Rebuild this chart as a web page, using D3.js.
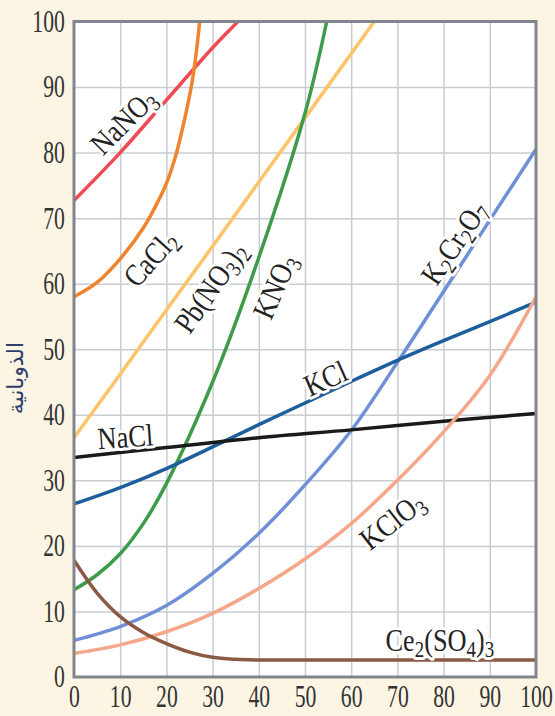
<!DOCTYPE html>
<meta charset="utf-8">
<style>
  body { margin: 0; background: #fcf5e3; }
  .tick text { font-family: 'Liberation Serif', serif; font-size: 31px; fill: #333; }
  .grid line { stroke: #c9ccd3; stroke-width: 1.5; }
  .grid path { display: none; }
  .lbl { font-family: 'Liberation Serif', serif; font-size: 31px; fill: #222;
         stroke: #fff; stroke-width: 6px; paint-order: stroke; stroke-linejoin: round; }
</style>
<body>
<div id="chart"></div>
<script src="https://d3js.org/d3.v7.min.js"></script>
<script>
  // temperature ticks / solubility ticks
  var xTicks = [0, 10, 20, 30, 40, 50, 60, 70, 80, 90, 100];
  var yTicks = [0, 10, 20, 30, 40, 50, 60, 70, 80, 90, 100];

  // curves: [temperature, solubility]
  var NaNO3   = [[0, 72.7], [10, 80], [20, 88], [30, 96], [35.5, 100]];
  var CaCl2   = [[0, 58], [5, 60.2], [10, 63.8], [15, 68.5], [18, 72.3], [20, 75.3], [22, 79.5], [24, 85.3], [25.5, 90.5], [26.5, 95.5], [27.2, 100]];
  var PbNO32  = [[0, 36.5], [10, 46.2], [20, 56], [30, 65.7], [40, 75.5], [50, 85.3], [60, 95.1], [65, 100]];
  var KNO3    = [[0, 13.3], [5, 15.6], [10, 18.8], [15, 23.4], [20, 29.5], [30, 45], [40, 64], [50, 86], [54.7, 100]];
  var K2Cr2O7 = [[0, 5.6], [10, 7.7], [20, 10.9], [30, 15.8], [40, 21.9], [50, 29.3], [60, 37.6], [70, 48], [80, 58.8], [90, 69.7], [100, 80.5]];
  var KCl     = [[0, 26.4], [10, 28.9], [20, 31.8], [30, 35.1], [40, 38.5], [50, 41.8], [60, 45.1], [70, 48.3], [80, 51.3], [90, 54.2], [100, 57.2]];
  var NaCl    = [[0, 33.5], [20, 35], [40, 36.5], [60, 37.7], [80, 39], [100, 40.2]];
  var KClO3   = [[0, 3.6], [10, 4.9], [20, 6.9], [30, 9.7], [40, 13.5], [50, 18], [60, 23.4], [70, 30], [80, 37.4], [90, 46], [100, 58]];
  var Ce2SO43 = [[0, 17.8], [5, 12.8], [10, 9.2], [15, 6.8], [20, 5.1], [25, 3.8], [30, 3.0], [35, 2.7], [40, 2.6], [70, 2.6], [100, 2.6]];

  var series = [
    { name: "NaNO_3",      data: NaNO3,   color: "#ee4b55", lx: 10.6, ly: 84.8, angle: -45 },
    { name: "CaCl_2",      data: CaCl2,   color: "#f0832c", lx: 16.5, ly: 63.9, angle: -48 },
    { name: "Pb(NO_3)_2",  data: PbNO32,  color: "#fdc46a", lx: 29.5, ly: 59.5, angle: -55 },
    { name: "KNO_3",       data: KNO3,    color: "#3e9b4a", lx: 43.4, ly: 59.6, angle: -66 },
    { name: "K_2Cr_2O_7",  data: K2Cr2O7, color: "#6f8fd6", lx: 82.2, ly: 66.3, angle: -56 },
    { name: "KCl",         data: KCl,     color: "#1d5e9c", lx: 54.4, ly: 45.6, angle: -24 },
    { name: "NaCl",        data: NaCl,    color: "#1a1a1a", lx: 11.1, ly: 36.7, angle: -4 },
    { name: "KClO_3",      data: KClO3,   color: "#f7a789", lx: 68.8, ly: 23.9, angle: -38 },
    { name: "Ce_2(SO_4)_3", data: Ce2SO43, color: "#8b5a45", lx: 79.2, ly: 5.6, angle: 0 }
  ];

  var width = 555, height = 716;
  var margin = { top: 21.5, right: 19, bottom: 39, left: 74 };
  var w = width - margin.left - margin.right;
  var h = height - margin.top - margin.bottom;

  var svg = d3.select("#chart").append("svg")
    .attr("width", width)
    .attr("height", height);

  var g = svg.append("g").attr("transform", `translate(${margin.left},${margin.top})`);

  var x = d3.scaleLinear().domain([0, 100]).range([0, w]);
  var y = d3.scaleLinear().domain([0, 100]).range([h, 0]);

  g.append("rect").attr("width", w).attr("height", h).attr("fill", "#fff");

  // grid
  g.append("g").attr("class", "grid")
    .attr("transform", `translate(0,${h})`)
    .call(d3.axisBottom(x).tickValues(xTicks.slice(1, -1)).tickSize(-h).tickFormat(""));
  g.append("g").attr("class", "grid")
    .call(d3.axisLeft(y).tickValues(yTicks.slice(1, -1)).tickSize(-w).tickFormat(""));

  g.append("clipPath").attr("id", "clip")
    .append("rect").attr("width", w).attr("height", h);

  var line = d3.line()
    .x(d => x(d[0]))
    .y(d => y(d[1]))
    .curve(d3.curveCatmullRom.alpha(0.5));

  g.append("g").attr("clip-path", "url(#clip)")
    .selectAll("path")
    .data(series)
    .enter().append("path")
    .attr("d", d => line(d.data))
    .attr("fill", "none")
    .attr("stroke", d => d.color)
    .attr("stroke-width", 3.5);

  // frame
  g.append("rect")
    .attr("width", w).attr("height", h)
    .attr("fill", "none")
    .attr("stroke", "#80858e")
    .attr("stroke-width", 3);

  // axes (labels only)
  var xAxis = g.append("g")
    .attr("transform", `translate(0,${h})`)
    .call(d3.axisBottom(x).tickValues(xTicks).tickSize(0).tickPadding(8));
  var yAxis = g.append("g")
    .call(d3.axisLeft(y).tickValues(yTicks).tickSize(0).tickPadding(9));
  xAxis.select(".domain").remove();
  yAxis.select(".domain").remove();
  xAxis.selectAll("text").attr("transform", "scale(0.7,1)");
  yAxis.selectAll("text").attr("transform", "scale(0.7,1)").attr("x", -13);

  // curve labels
  var lbl = g.selectAll(".lbl")
    .data(series)
    .enter().append("text")
    .attr("class", "lbl")
    .attr("text-anchor", "middle")
    .attr("dy", "0.35em")
    .attr("transform", d => `translate(${x(d.lx)},${y(d.ly)}) rotate(${d.angle}) scale(0.85,1)`);

  lbl.each(function(d) {
    var t = d3.select(this);
    d.name.split(/(_\d)/).filter(s => s.length).forEach(function(part) {
      if (part[0] === "_") {
        t.append("tspan").attr("font-size", "0.72em").attr("baseline-shift", "-25%").text(part.slice(1));
      } else {
        t.append("tspan").text(part);
      }
    });
  });

  // y-axis title
  svg.append("text")
    .attr("transform", "translate(15,378) rotate(-90)")
    .attr("text-anchor", "middle")
    .attr("dy", "0.35em")
    .style("font-family", "'DejaVu Sans', sans-serif")
    .style("font-size", "22px")
    .style("fill", "#2e3f6e")
    .text("الذوبانية");
</script>
</body>
